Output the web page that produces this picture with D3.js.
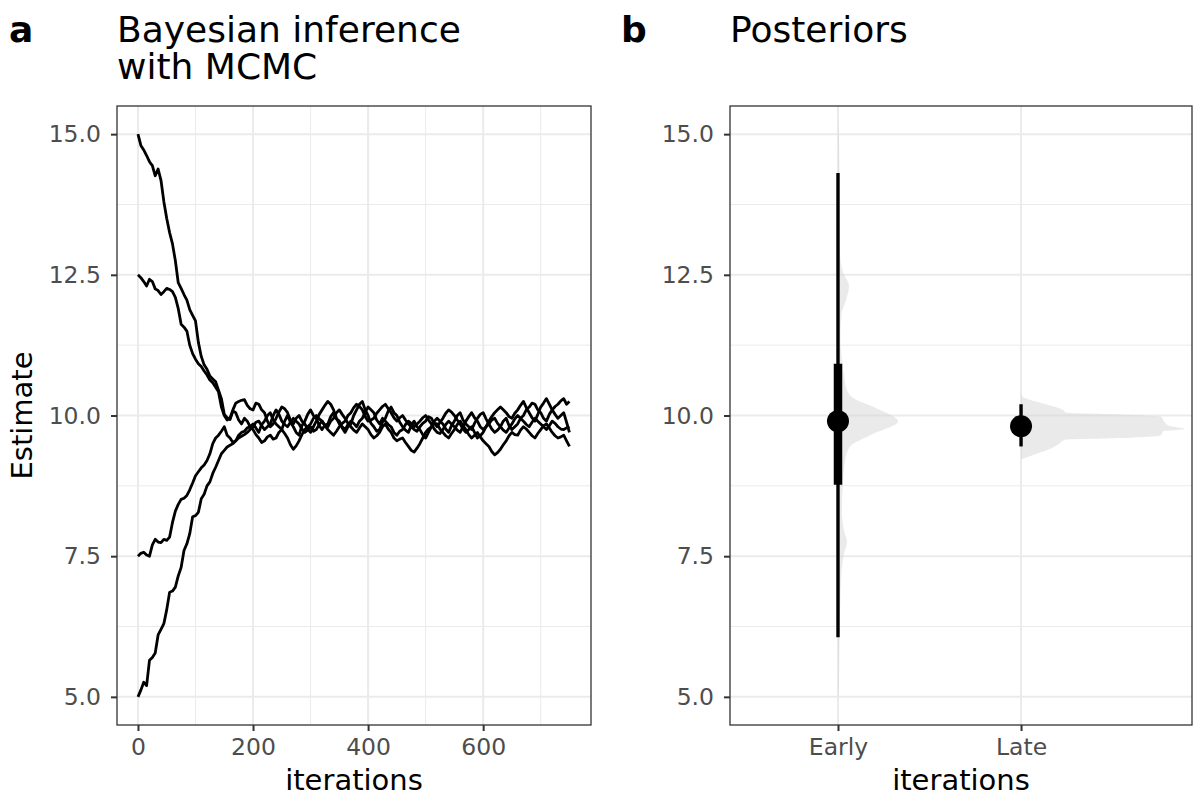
<!DOCTYPE html>
<html>
<head>
<meta charset="utf-8">
<script src="https://cdn.jsdelivr.net/npm/d3@7"></script>
<style>
  body { margin: 0; background: #fff; }
  text { font-family: "DejaVu Sans", sans-serif; }
</style>
</head>
<body>
<script>
// ---- data -------------------------------------------------------------
// MCMC traces, read every 5 iterations
const iterations = d3.range(0, 751, 5);

const chainFrom15 = [
  15.0, 14.8, 14.72, 14.62, 14.51, 14.44, 14.26, 14.38, 14.18, 13.8,
  13.5, 13.25, 13.05, 12.75, 12.36, 12.26, 12.15, 12.05, 11.88, 11.78,
  11.68, 11.3, 11.05, 10.9, 10.82, 10.7, 10.65, 10.6, 10.45, 10.3,
  10.02, 9.96, 9.93, 10.08, 10.05, 9.92, 9.85, 9.95, 9.9, 9.8,
  9.85, 9.78, 9.7, 9.84, 9.9, 10.0, 10.05, 9.92, 9.85, 9.8,
  9.75, 9.9, 10.0, 9.88, 9.8, 9.7, 9.65, 9.82, 9.9, 10.02,
  10.1, 10.0, 9.95, 9.82, 9.75, 9.83, 9.85, 9.98, 10.05, 9.94,
  9.9, 9.78, 9.7, 9.8, 9.85, 10.0, 10.1, 10.2, 10.25, 10.1,
  10.0, 9.86, 9.8, 9.72, 9.75, 9.88, 9.95, 10.08, 10.15, 10.05,
  10.0, 9.88, 9.8, 9.74, 9.7, 9.82, 9.9, 9.8, 9.75, 9.66,
  9.6, 9.7, 9.8, 9.9, 9.95, 9.9, 9.85, 9.76, 9.7, 9.82,
  9.9, 10.0, 10.05, 9.92, 9.85, 9.8, 9.75, 9.86, 9.95, 10.02,
  10.05, 9.94, 9.85, 9.76, 9.7, 9.74, 9.8, 9.9, 9.95, 9.82,
  9.75, 9.8, 9.85, 9.95, 10.0, 10.1, 10.15, 10.22, 10.2, 10.1,
  10.05, 9.95, 9.9, 10.02, 10.1, 10.16, 10.2, 10.26, 10.3, 10.2,
  10.25
];
const chainFrom12 = [
  12.5, 12.45, 12.38, 12.3, 12.42, 12.38, 12.25, 12.22, 12.15, 12.2,
  12.26, 12.24, 12.2, 12.1, 11.9, 11.62, 11.57, 11.5, 11.25, 11.1,
  11.0, 10.92, 10.87, 10.79, 10.72, 10.63, 10.58, 10.5, 10.42, 10.15,
  10.0, 9.92, 9.95, 10.1, 10.22, 10.25, 10.27, 10.28, 10.18, 10.12,
  10.1, 10.22, 10.2, 10.1, 10.05, 9.9, 9.8, 9.85, 9.95, 10.06,
  10.15, 10.12, 10.05, 9.92, 9.85, 9.95, 10.0, 9.9, 9.85, 9.76,
  9.7, 9.8, 9.9, 10.02, 10.1, 10.18, 10.25, 10.2, 10.1, 9.95,
  9.85, 9.8, 9.75, 9.84, 9.9, 9.86, 9.8, 9.9, 9.95, 10.06,
  10.15, 10.1, 10.05, 9.92, 9.85, 9.95, 9.9, 9.84, 9.8, 9.7,
  9.65, 9.72, 9.75, 9.84, 9.9, 9.86, 9.8, 9.85, 9.9, 9.96,
  10.0, 9.92, 9.85, 9.76, 9.7, 9.68, 9.75, 9.84, 9.9, 9.85,
  9.8, 9.74, 9.7, 9.8, 9.9, 9.98, 10.05, 9.96, 9.9, 9.8,
  9.75, 9.8, 9.85, 9.92, 9.95, 9.86, 9.8, 9.74, 9.7, 9.78,
  9.85, 9.94, 10.0, 9.95, 9.9, 9.84, 9.8, 9.88, 9.95, 9.9,
  9.85, 9.8, 9.75, 9.82, 9.9, 9.86, 9.8, 9.76, 9.75, 9.78,
  9.8
];
const chainFrom7 = [
  7.5, 7.55, 7.57, 7.52, 7.5, 7.7, 7.8, 7.75, 7.74, 7.8,
  7.78, 7.84, 8.1, 8.3, 8.42, 8.51, 8.53, 8.58, 8.68, 8.8,
  8.93, 9.0, 9.07, 9.12, 9.2, 9.32, 9.5, 9.6, 9.65, 9.72,
  9.8, 9.65, 9.6, 9.52, 9.55, 9.65, 9.7, 9.72, 9.78, 9.8,
  9.75, 9.66, 9.6, 9.52, 9.55, 9.62, 9.65, 9.58, 9.6, 9.7,
  9.75, 9.68, 9.6, 9.48, 9.4, 9.46, 9.55, 9.66, 9.75, 9.8,
  9.85, 9.95, 10.0, 9.94, 9.9, 9.82, 9.8, 9.9, 9.95, 10.05,
  10.1, 10.02, 9.95, 9.86, 9.8, 9.74, 9.7, 9.78, 9.85, 9.8,
  9.75, 9.66, 9.6, 9.64, 9.7, 9.8, 9.85, 9.76, 9.7, 9.6,
  9.55, 9.58, 9.6, 9.52, 9.45, 9.38, 9.35, 9.42, 9.5, 9.6,
  9.7, 9.76, 9.8, 9.86, 9.85, 9.76, 9.7, 9.64, 9.6, 9.68,
  9.75, 9.84, 9.9, 9.82, 9.75, 9.66, 9.6, 9.65, 9.7, 9.62,
  9.55, 9.5, 9.45, 9.36, 9.3, 9.34, 9.4, 9.48, 9.55, 9.64,
  9.7, 9.66, 9.65, 9.74, 9.8, 9.76, 9.7, 9.64, 9.6, 9.68,
  9.75, 9.82, 9.85, 9.78, 9.7, 9.64, 9.6, 9.62, 9.65, 9.55,
  9.45
];
const chainFrom5 = [
  5.0, 5.12, 5.26, 5.2, 5.65, 5.7, 5.78, 6.1, 6.2, 6.3,
  6.55, 6.86, 6.88, 6.95, 7.15, 7.3, 7.6, 7.72, 7.9, 8.2,
  8.22, 8.28, 8.52, 8.6, 8.75, 8.82, 8.97, 9.08, 9.2, 9.32,
  9.38, 9.44, 9.47, 9.5, 9.55, 9.6, 9.63, 9.66, 9.7, 9.75,
  9.8, 9.88, 9.9, 9.82, 9.75, 9.8, 9.85, 10.0, 10.1, 10.02,
  9.9, 9.84, 9.8, 9.88, 9.95, 9.9, 9.85, 9.76, 9.7, 9.74,
  9.8, 9.72, 9.75, 9.84, 9.9, 9.82, 9.75, 9.7, 9.65, 9.72,
  9.8, 9.86, 9.9, 10.0, 10.05, 10.14, 10.2, 10.16, 10.1, 9.98,
  9.9, 9.92, 9.95, 10.04, 10.1, 10.16, 10.2, 10.12, 10.05, 9.96,
  9.9, 9.96, 10.0, 9.92, 9.85, 9.8, 9.75, 9.72, 9.8, 9.86,
  9.9, 9.98, 9.95, 9.86, 9.8, 9.88, 9.95, 10.04, 10.1, 10.06,
  10.0, 9.92, 9.85, 9.76, 9.7, 9.75, 9.8, 9.7, 9.6, 9.64,
  9.7, 9.8, 9.9, 9.98, 10.05, 10.1, 10.15, 10.1, 10.05, 9.98,
  9.95, 10.04, 10.1, 10.18, 10.25, 10.14, 10.05, 9.96, 9.9, 10.02,
  10.15, 10.22, 10.3, 10.2, 10.1, 10.02, 9.95, 10.0, 10.05, 9.88,
  9.7
];
const chains = [chainFrom15, chainFrom12, chainFrom7, chainFrom5];

// posterior summaries
const categories = ["Early", "Late"];
const pointEstimate = [9.9, 9.81];
const interval66 = [[8.77, 10.92], [9.68, 9.93]];
const interval95 = [[6.06, 14.31], [9.45, 10.2]];

// posterior densities (relative height) at estimate values
const earlyValues = [4.9, 5.2, 6.0, 6.8, 7.3, 7.55, 7.75, 7.95, 8.3, 8.8, 9.2, 9.45, 9.65, 9.9,
  10.13, 10.3, 10.45, 10.7, 11.0, 11.4, 11.8, 12.05, 12.3, 12.55, 12.9, 13.5, 14.2, 14.9, 15.3];
const earlyDensity = [0, 0.006, 0.009, 0.015, 0.024, 0.037, 0.055, 0.037, 0.024, 0.03, 0.043, 0.073, 0.195, 0.366,
  0.232, 0.098, 0.055, 0.037, 0.024, 0.015, 0.021, 0.049, 0.067, 0.03, 0.012, 0.009, 0.009, 0.006, 0];
const lateValues = [9.22, 9.3, 9.4, 9.5, 9.57, 9.6, 9.65, 9.72, 9.76, 9.82, 9.9, 9.98, 10.02, 10.05, 10.1, 10.2, 10.33, 10.4];
const lateDensity = [0, 0.073, 0.171, 0.232, 0.268, 0.61, 0.854, 0.866, 1.0, 0.902, 0.872, 0.854, 0.61, 0.274, 0.256, 0.152, 0.012, 0];
const densities = [
  earlyValues.map((v, i) => ({ v, d: earlyDensity[i] })),
  lateValues.map((v, i) => ({ v, d: lateDensity[i] }))
];

const yTicks = [5.0, 7.5, 10.0, 12.5, 15.0];
const yMinor = [6.25, 8.75, 11.25, 13.75];
const xTicks = [0, 200, 400, 600];
const xMinor = [100, 300, 500, 700];

// ---- layout ------------------------------------------------------------
const svg = d3.select("body").append("svg")
  .attr("width", 1194).attr("height", 796);

const panelTop = 106, panelBottom = 725;
const pa = { left: 117, right: 591 };
const pb = { left: 730, right: 1192 };

const y = d3.scaleLinear().domain([4.5, 15.5]).range([panelBottom, panelTop]);
const xA = d3.scaleLinear().domain([-36.45, 787.45]).range([pa.left, pa.right]);
const xB = d3.scaleLinear().domain([0.41, 2.934]).range([pb.left, pb.right]);
const dens = d3.scaleLinear().domain([0, 1]).range([0, 164]);

function grid(p, vMajor, vMinor, xs) {
  const g = svg.append("g");
  yMinor.forEach(v => g.append("line").attr("x1", p.left).attr("x2", p.right)
    .attr("y1", y(v)).attr("y2", y(v)).attr("stroke", "#ebebeb").attr("stroke-width", 1));
  vMinor.forEach(v => g.append("line").attr("x1", xs(v)).attr("x2", xs(v))
    .attr("y1", panelTop).attr("y2", panelBottom).attr("stroke", "#ebebeb").attr("stroke-width", 1));
  yTicks.forEach(v => g.append("line").attr("x1", p.left).attr("x2", p.right)
    .attr("y1", y(v)).attr("y2", y(v)).attr("stroke", "#ebebeb").attr("stroke-width", 2));
  vMajor.forEach(v => g.append("line").attr("x1", xs(v)).attr("x2", xs(v))
    .attr("y1", panelTop).attr("y2", panelBottom).attr("stroke", "#ebebeb").attr("stroke-width", 2));
}

function styleAxis(g) {
  g.select(".domain").remove();
  g.selectAll(".tick line").attr("stroke", "#333333").attr("stroke-width", 2);
  g.selectAll(".tick text").attr("fill", "#4d4d4d").style("font-size", "23.5px");
}

function border(p) {
  svg.append("rect").attr("x", p.left).attr("y", panelTop)
    .attr("width", p.right - p.left).attr("height", panelBottom - panelTop)
    .attr("fill", "none").attr("stroke", "#333333").attr("stroke-width", 1.3);
}

// ---- panel a: traces ---------------------------------------------------
grid(pa, xTicks, xMinor, xA);

const line = d3.line()
  .x((d, i) => xA(iterations[i]))
  .y(d => y(d));

svg.append("g").selectAll("path")
  .data(chains)
  .join("path")
  .attr("d", line)
  .attr("fill", "none")
  .attr("stroke", "#000")
  .attr("stroke-width", 2.8)
  .attr("stroke-linejoin", "round");

border(pa);

svg.append("g").attr("transform", `translate(${pa.left},0)`)
  .call(d3.axisLeft(y).tickValues(yTicks).tickFormat(d3.format(".1f")).tickSize(6).tickPadding(10))
  .call(styleAxis);

svg.append("g").attr("transform", `translate(0,${panelBottom})`)
  .call(d3.axisBottom(xA).tickValues(xTicks).tickFormat(d3.format("d")).tickSize(6).tickPadding(7))
  .call(styleAxis);

// ---- panel b: posteriors -----------------------------------------------
grid(pb, [1, 2], [], xB);

const slab = svg.append("g");
densities.forEach((ds, i) => {
  const x0 = xB(i + 1);
  const area = d3.area()
    .y(d => y(d.v))
    .x0(x0)
    .x1(d => x0 + dens(d.d))
    .curve(d3.curveMonotoneY);
  slab.append("path").attr("d", area(ds))
    .attr("fill", "#d6d6d6").attr("fill-opacity", 0.5);
});

const intervals = svg.append("g");
categories.forEach((c, i) => {
  const x = xB(i + 1);
  intervals.append("line").attr("x1", x).attr("x2", x)
    .attr("y1", y(interval95[i][0])).attr("y2", y(interval95[i][1]))
    .attr("stroke", "#000").attr("stroke-width", 3.4);
  intervals.append("line").attr("x1", x).attr("x2", x)
    .attr("y1", y(interval66[i][0])).attr("y2", y(interval66[i][1]))
    .attr("stroke", "#000").attr("stroke-width", 8.5);
  intervals.append("circle").attr("cx", x).attr("cy", y(pointEstimate[i]))
    .attr("r", 11).attr("fill", "#000");
});

border(pb);

svg.append("g").attr("transform", `translate(${pb.left},0)`)
  .call(d3.axisLeft(y).tickValues(yTicks).tickFormat(d3.format(".1f")).tickSize(6).tickPadding(10))
  .call(styleAxis);

svg.append("g").attr("transform", `translate(0,${panelBottom})`)
  .call(d3.axisBottom(xB).tickValues([1, 2]).tickFormat(d => categories[d - 1]).tickSize(6).tickPadding(7))
  .call(styleAxis);

// ---- titles and labels -------------------------------------------------
svg.append("text").attr("x", 9).attr("y", 42)
  .style("font-size", "36px").style("font-weight", "bold").text("a");
svg.append("text").attr("x", 621).attr("y", 42)
  .style("font-size", "36px").style("font-weight", "bold").text("b");

const titleA = svg.append("text").attr("x", pa.left).attr("y", 42).style("font-size", "36px");
titleA.append("tspan").attr("x", pa.left).text("Bayesian inference");
titleA.append("tspan").attr("x", pa.left).attr("dy", 37).text("with MCMC");
svg.append("text").attr("x", pb.left).attr("y", 42).style("font-size", "36px").text("Posteriors");

svg.append("text").attr("x", (pa.left + pa.right) / 2).attr("y", 790)
  .attr("text-anchor", "middle").style("font-size", "29px").text("iterations");
svg.append("text").attr("x", (pb.left + pb.right) / 2).attr("y", 790)
  .attr("text-anchor", "middle").style("font-size", "29px").text("iterations");

svg.append("text")
  .attr("transform", `translate(32,${(panelTop + panelBottom) / 2}) rotate(-90)`)
  .attr("text-anchor", "middle").style("font-size", "29px").text("Estimate");
</script>
</body>
</html>
